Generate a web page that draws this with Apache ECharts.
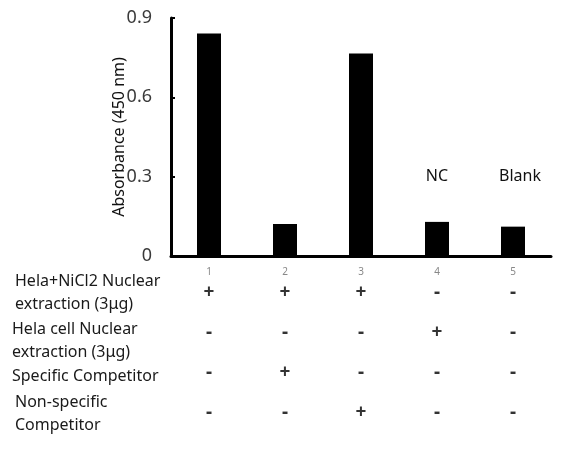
<!DOCTYPE html>
<html>

<head>
    <meta charset="UTF-8">
    <style type="text/css">
        body {
            margin: 0;
            padding: 0;
            overflow: hidden;
            background: #fff;
        }

        #chart {
            width: 567px;
            height: 449px;
        }
    </style>
</head>

<body>
    <div id="chart"></div>
    <script src="https://cdn.jsdelivr.net/npm/echarts@6/dist/echarts.min.js"></script>
    <script>
        let LANES = ['1', '2', '3', '4', '5'];
        let ABSORBANCE = [0.841, 0.121, 0.766, 0.129, 0.111];
        let NOTES = [null, null, null, 'NC', 'Blank'];
        let Y_TICKS = [0, 0.3, 0.6, 0.9];

        // +/- table under the bars, one array per condition row
        let ROW_NICL2 = ['+', '+', '+', '-', '-'];
        let ROW_HELA = ['-', '-', '-', '+', '-'];
        let ROW_SPECIFIC = ['-', '+', '-', '-', '-'];
        let ROW_NONSPECIFIC = ['-', '-', '+', '-', '-'];
        let ROW_NAMES = [
            ['Hela+NiCl2 Nuclear', 'extraction (3μg)'],
            ['Hela cell Nuclear', 'extraction (3μg)'],
            ['Specific Competitor'],
            ['Non-specific', 'Competitor']
        ];

        let FONT = 'Noto Sans';
        var myChart = echarts.init(document.getElementById('chart'));

        let signs = [];
        [ROW_NICL2, ROW_HELA, ROW_SPECIFIC, ROW_NONSPECIFIC].forEach((row, r) => {
            row.forEach((s, c) => {
                signs.push([c, r, s]);
            });
        });

        let notes = [];
        NOTES.forEach((n, i) => {
            if (n) {
                notes.push({ coord: [i, 0.3], value: n, label: { offset: [n == 'Blank' ? 7 : 0, 0] } });
            }
        });

        // row titles: centre y of first line per row
        let rowTop = [281, 329, 376, 402];
        let rowLeft = [15, 12, 12, 15];
        let graphics = [];
        ROW_NAMES.forEach((lines, r) => {
            lines.forEach((t, k) => {
                graphics.push({
                    type: 'text',
                    x: rowLeft[r],
                    y: rowTop[r] + k * 23,
                    style: {
                        text: t,
                        fill: '#1a1a1a',
                        font: '16px "' + FONT + '"',
                        textVerticalAlign: 'middle'
                    }
                });
            });
        });

        let option = {
            animation: false,
            textStyle: { fontFamily: FONT },
            grid: [
                { left: 171, right: 16, top: 18, height: 238 },
                { left: 171, right: 16, top: 273, height: 160 }
            ],
            xAxis: [
                {
                    type: 'category',
                    data: LANES,
                    gridIndex: 0,
                    axisLine: { lineStyle: { color: '#000', width: 3 } },
                    axisTick: { inside: true, length: 3, lineStyle: { color: '#000', width: 2 } },
                    axisLabel: { color: '#888', fontSize: 10, margin: 11 }
                },
                {
                    type: 'category',
                    data: LANES,
                    gridIndex: 1,
                    show: false
                }
            ],
            yAxis: [
                {
                    type: 'value',
                    gridIndex: 0,
                    min: 0,
                    max: 0.9,
                    interval: 0.3,
                    name: 'Absorbance (450 nm)',
                    nameLocation: 'middle',
                    nameGap: 44,
                    nameMoveOverlap: false,
                    nameTextStyle: { color: '#111', fontSize: 16 },
                    axisLine: { show: true, lineStyle: { color: '#000', width: 3 } },
                    axisTick: { show: true, inside: true, length: 4, lineStyle: { color: '#000', width: 2 } },
                    splitLine: { show: false },
                    axisLabel: {
                        color: '#3a3a3a',
                        fontSize: 18,
                        margin: 19,
                        formatter: function (v) {
                            return Y_TICKS.indexOf(v) >= 0 ? (v === 0 ? '0' : v.toString()) : '';
                        }
                    }
                },
                {
                    type: 'value',
                    gridIndex: 1,
                    min: -0.5,
                    max: 3.5,
                    inverse: true,
                    show: false
                }
            ],
            graphic: graphics,
            series: [
                {
                    type: 'bar',
                    data: ABSORBANCE,
                    barWidth: 24,
                    itemStyle: { color: '#000' },
                    markPoint: {
                        symbol: 'circle',
                        symbolSize: 0,
                        label: {
                            show: true,
                            position: 'inside',
                            color: '#111',
                            fontSize: 16,
                            formatter: function (p) { return p.value; }
                        },
                        data: notes
                    }
                },
                {
                    type: 'scatter',
                    xAxisIndex: 1,
                    yAxisIndex: 1,
                    data: signs,
                    symbolSize: 0,
                    label: {
                        show: true,
                        position: 'inside',
                        color: '#000',
                        fontSize: 19,
                        fontWeight: 'bold',
                        formatter: function (p) { return p.value[2]; }
                    }
                }
            ]
        };
        myChart.setOption(option);
    </script>
</body>

</html>
